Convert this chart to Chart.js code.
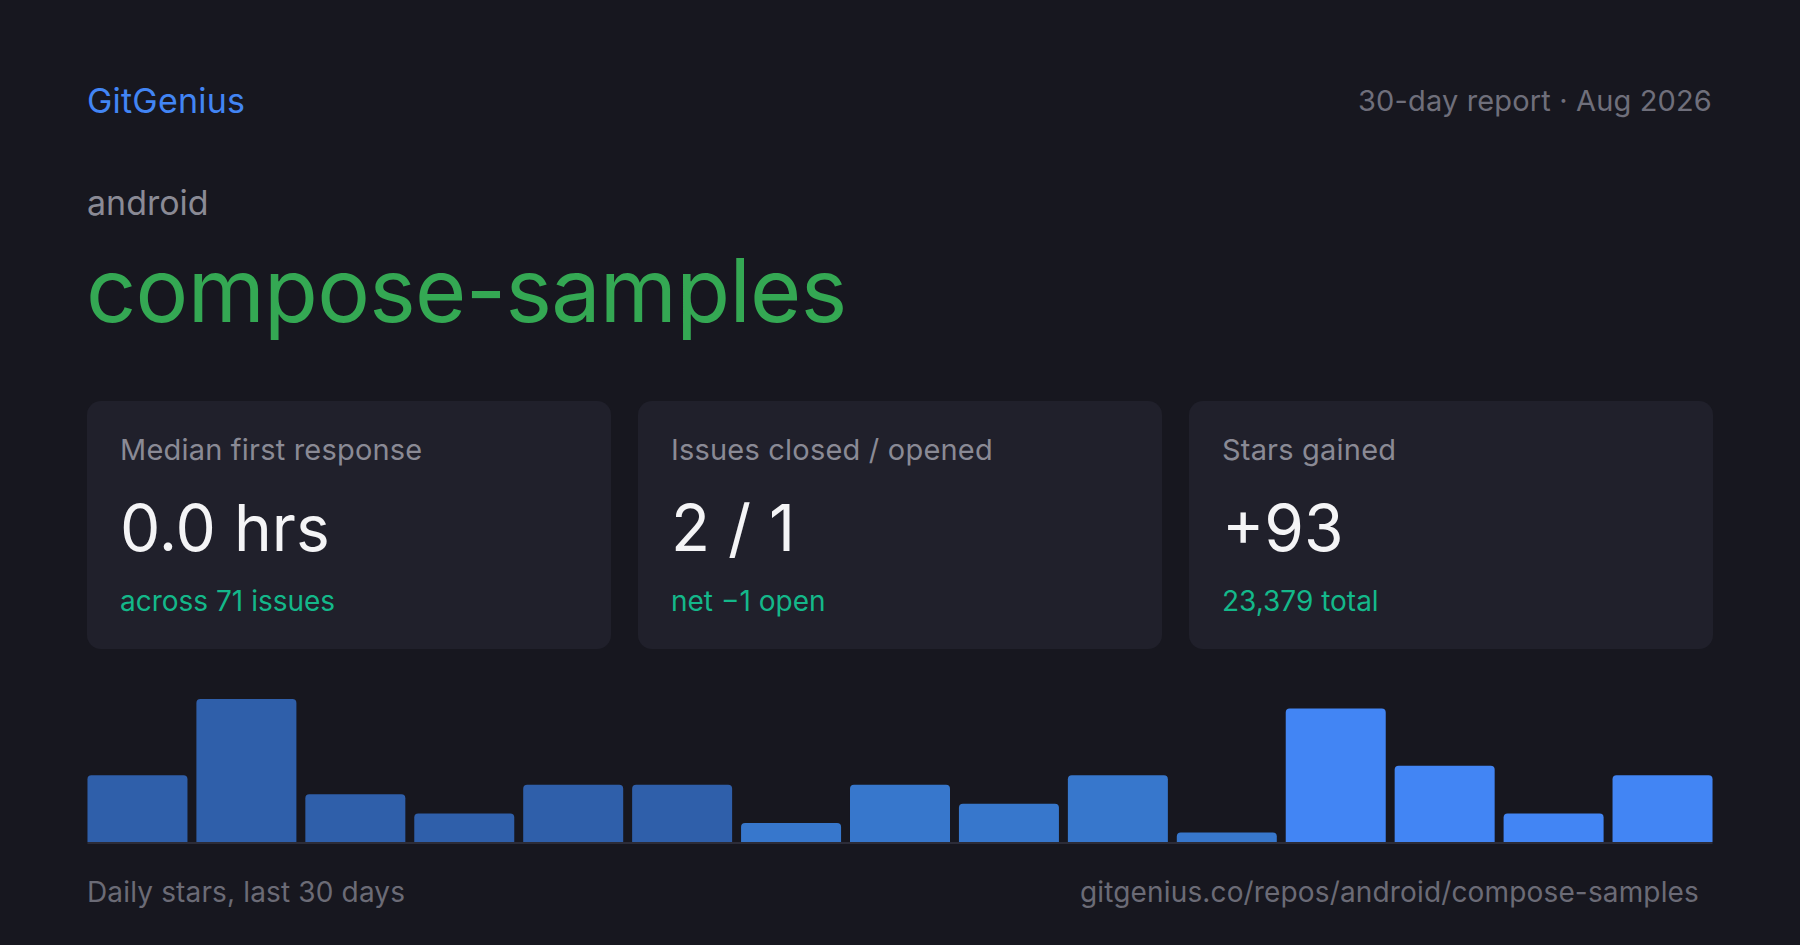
<!DOCTYPE html>
<html>
<head>
<meta charset="utf-8">
<script src="https://cdn.jsdelivr.net/npm/chart.js@4.4.1/dist/chart.umd.min.js"></script>
<style>
  html, body { margin: 0; padding: 0; }
  body {
    width: 1800px; height: 945px; overflow: hidden;
    background: #17171f; font-family: Inter, "Noto Sans", sans-serif;
    position: relative;
  }
  .abs { position: absolute; line-height: 1; white-space: nowrap; }
  .brand { left: 87px; top: 84px; font-size: 34px; color: #4285f4; letter-spacing: 0.2px; }
  .report { right: 88px; top: 86px; font-size: 29px; color: #6f6f7b; letter-spacing: 0.15px; }
  .owner { left: 87px; top: 186px; font-size: 34px; color: #8a8a95; }
  .repo { left: 86px; top: 246px; font-size: 88px; color: #34a853; letter-spacing: -0.7px; }
  .card {
    position: absolute; top: 401px; width: 524px; height: 248px;
    background: #20202b; border-radius: 14px;
  }
  .card .lbl { position: absolute; left: 33px; top: 34px; font-size: 29px; color: #8a8a95; line-height: 1; letter-spacing: 0.2px; white-space: nowrap; }
  .card .val { position: absolute; left: 33px; top: 95px; font-size: 64px; color: #f4f4f6; line-height: 1; white-space: nowrap; }
  .card .sub { position: absolute; left: 33px; top: 186px; font-size: 28px; color: #14b88a; line-height: 1; white-space: nowrap; }
  .foot { top: 878px; font-size: 28px; color: #6b6b76; letter-spacing: 0.15px; }
  #chartBox { position: absolute; left: 83px; top: 699px; width: 1634px; height: 146px; }
</style>
</head>
<body>
<div class="abs brand">GitGenius</div>
<div class="abs report">30-day report · Aug 2026</div>
<div class="abs owner">android</div>
<div class="abs repo">compose-samples</div>

<div class="card" style="left:87px">
  <div class="lbl">Median first response</div>
  <div class="val">0.0 hrs</div>
  <div class="sub">across 71 issues</div>
</div>
<div class="card" style="left:638px">
  <div class="lbl">Issues closed / opened</div>
  <div class="val">2 / 1</div>
  <div class="sub">net −1 open</div>
</div>
<div class="card" style="left:1189px">
  <div class="lbl">Stars gained</div>
  <div class="val">+93</div>
  <div class="sub">23,379 total</div>
</div>

<div id="chartBox"><canvas id="starsChart"></canvas></div>

<div class="abs foot" style="left:87px">Daily stars, last 30 days</div>
<div class="abs foot" style="right:101px">gitgenius.co/repos/android/compose-samples</div>

<script>
// two-day buckets over the last 30 days
const buckets = ['Day 1-2', 'Day 3-4', 'Day 5-6', 'Day 7-8', 'Day 9-10',
  'Day 11-12', 'Day 13-14', 'Day 15-16', 'Day 17-18', 'Day 19-20',
  'Day 21-22', 'Day 23-24', 'Day 25-26', 'Day 27-28', 'Day 29-30'];
const stars = [7, 15, 5, 3, 6, 6, 2, 6, 4, 7, 1, 14, 8, 3, 7];

// older buckets are drawn dimmer
const barColors = ['#2f5faa', '#2f5faa', '#2f5faa', '#2f5faa', '#2f5faa', '#2f5faa',
  '#3777cc', '#3777cc', '#3777cc', '#3777cc', '#3777cc',
  '#4285f4', '#4285f4', '#4285f4', '#4285f4'];

// thin baseline under the bars
const baseline = {
  id: 'baseline',
  afterDatasetsDraw(chart) {
    let bars = chart.getDatasetMeta(0).data;
    let first = bars[0], last = bars[bars.length - 1];
    let ctx = chart.ctx;
    ctx.save();
    ctx.fillStyle = '#2c2c38';
    ctx.fillRect(first.x - first.width / 2, chart.chartArea.bottom, (last.x + last.width / 2) - (first.x - first.width / 2), 2);
    ctx.restore();
  }
};

new Chart(document.getElementById('starsChart'), {
  type: 'bar',
  data: {
    labels: buckets,
    datasets: [{
      data: stars,
      backgroundColor: barColors,
      borderRadius: { topLeft: 4, topRight: 4, bottomLeft: 0, bottomRight: 0 },
      borderSkipped: 'bottom',
      barPercentage: 0.918,
      categoryPercentage: 1
    }]
  },
  options: {
    responsive: true,
    maintainAspectRatio: false,
    animation: false,
    layout: { padding: { top: 0, bottom: 3, left: 0, right: 0 } },
    plugins: { legend: { display: false }, tooltip: { enabled: false } },
    scales: {
      x: { display: false },
      y: { display: false, min: 0, max: Math.max(...stars) }
    }
  },
  plugins: [baseline]
});
</script>
</body>
</html>
